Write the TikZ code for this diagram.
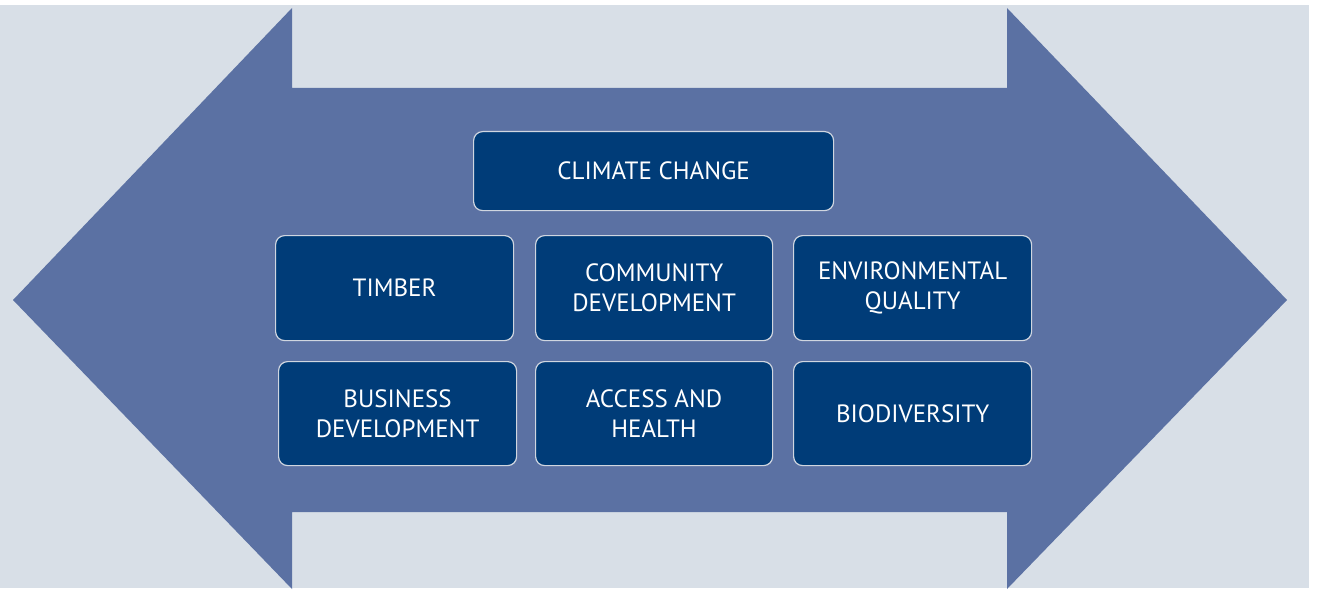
\documentclass[tikz,border=0pt]{standalone}
\usepackage{fontspec}
\newfontfamily\boxfont{PT Sans}
\definecolor{bgcol}{HTML}{D8DFE7}
\definecolor{arrowcol}{HTML}{5B71A3}
\definecolor{boxcol}{HTML}{003C78}
\definecolor{edgecol}{HTML}{D0D6E0}
\tikzset{
  theme/.style={draw=edgecol, line width=1.2pt, fill=boxcol, rounded corners=9pt,
    text=white, font=\boxfont\fontsize{25}{30}\selectfont, align=center,
    inner sep=0pt, anchor=north west}
}
\begin{document}
\begin{tikzpicture}[x=1pt,y=1pt,yscale=-1,xscale=1]
\useasboundingbox (0,0) rectangle (1317,591);

%Shape: Background
\fill [bgcol] (0,5) rectangle (1309,588);
%Shape: Double arrow
\fill [arrowcol] (13,300) -- (292,8) -- (292,88) -- (1007,88) -- (1007,8) -- (1287,300)
  -- (1007,589) -- (1007,512) -- (292,512) -- (292,589) -- cycle;

% Text Nodes
\node [theme, minimum width=360pt, minimum height=79pt] (climate) at (473,131) {CLIMATE CHANGE};
\node [theme, minimum width=238pt, minimum height=105pt] (timber) at (275,235) {TIMBER};
\node [theme, minimum width=237pt, minimum height=105pt] (community) at (535,235) {COMMUNITY\\DEVELOPMENT};
\node [theme, minimum width=238pt, minimum height=105pt] (environment) at (793,235) {ENVIRONMENTAL\\QUALITY};
\node [theme, minimum width=238pt, minimum height=104pt] (business) at (278,361) {BUSINESS\\DEVELOPMENT};
\node [theme, minimum width=237pt, minimum height=104pt] (access) at (535,361) {ACCESS AND\\HEALTH};
\node [theme, minimum width=238pt, minimum height=104pt] (biodiversity) at (793,361) {BIODIVERSITY};

\end{tikzpicture}
\end{document}
